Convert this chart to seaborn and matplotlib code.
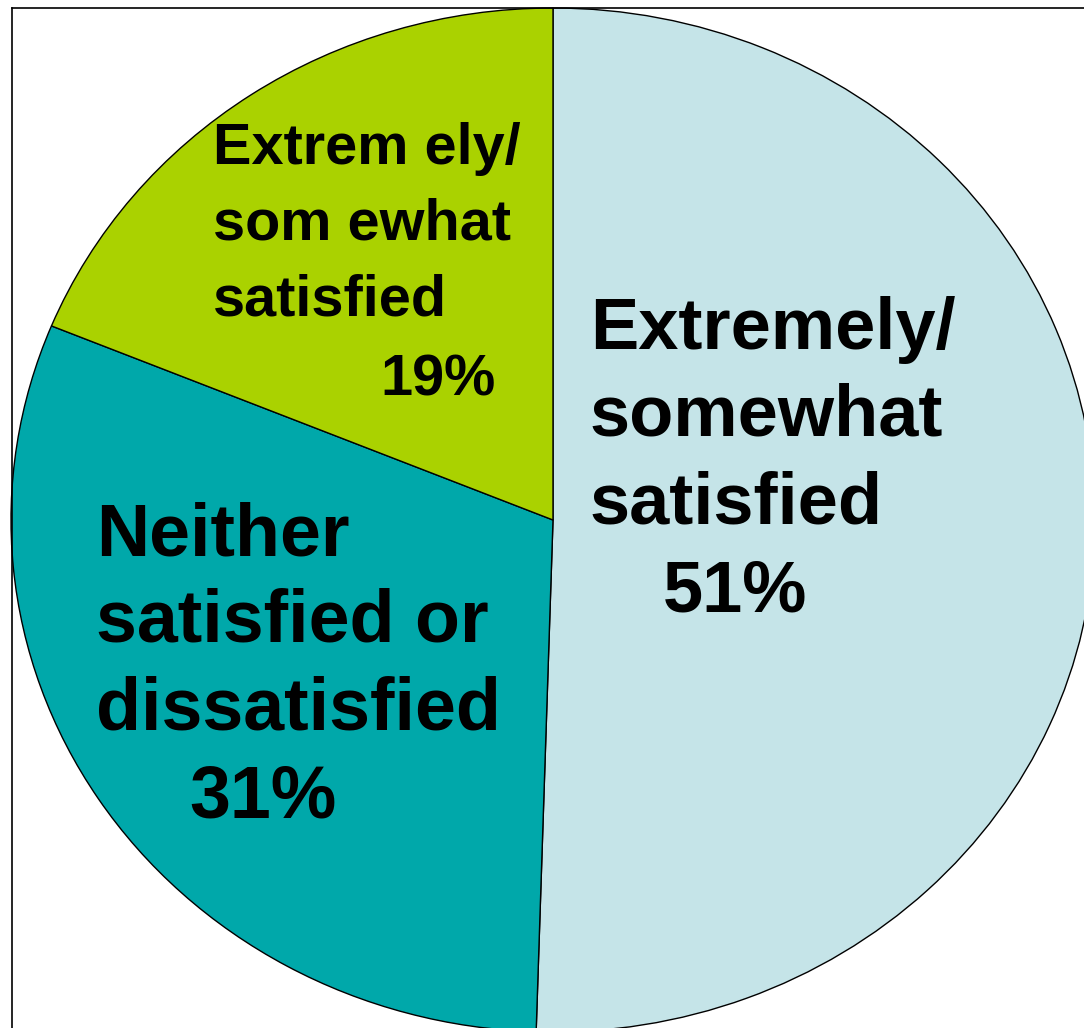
import matplotlib
matplotlib.use("Agg")
import matplotlib.pyplot as plt
import seaborn as sns

# Satisfaction shares (labels as printed on the slices)
values = [51, 31, 19]
colors = ["#C5E4E8", "#00A8AA", "#AAD200"]
label_lines = [
    ["Extremely/", "somewhat", "satisfied"],
    ["Neither", "satisfied or", "dissatisfied"],
    ["Extrem ely/", "som ewhat", "satisfied"],
]

sns.set_style("white")
plt.rcParams["font.family"] = ["Liberation Sans", "DejaVu Sans"]

W, H, DPI = 1084, 1028, 100
fig = plt.figure(figsize=(W / DPI, H / DPI), dpi=DPI)

# Axes box in pixels: left/top edges form the visible frame, right/bottom run off the canvas
L, T, R, B = 12, 8, 1110, 1045
ax = fig.add_axes([L / W, 1 - B / H, (R - L) / W, (B - T) / H])

cx, cy = 553, 520      # pie centre (px)
rx, ry = 542, 512      # horizontal / vertical radius (px)

def to_data(px, py):
    return (px - cx) / rx, (cy - py) / ry

ax.pie(values, colors=colors, startangle=90, counterclock=False,
       radius=1.0, wedgeprops=dict(edgecolor="black", linewidth=1.0))
ax.set_aspect("auto")
ax.set_xlim((L - cx) / rx, (R - cx) / rx)
ax.set_ylim((cy - B) / ry, (cy - T) / ry)
ax.set_frame_on(True)
for side in ("right", "bottom"):
    ax.spines[side].set_visible(False)
for side in ("left", "top"):
    ax.spines[side].set_visible(True)
    ax.spines[side].set_color("black")
    ax.spines[side].set_linewidth(1.2)
ax.set_xticks([])
ax.set_yticks([])

# Per-slice text layout: (left x, first baseline y, line pitch, pct x, pct baseline, font size)
layout = [
    (590, 349, 87, 663, 612, 52),
    (96, 555, 87, 189, 818, 53),
    (213, 164, 76, 380, 395, 41.5),
]

for lines, val, (lx, by, pitch, px, pby, fs) in zip(label_lines, values, layout):
    for i, line in enumerate(lines):
        x, y = to_data(lx, by + i * pitch)
        ax.text(x, y, line, ha="left", va="baseline", fontsize=fs,
                fontweight="bold", color="black")
    x, y = to_data(px, pby)
    ax.text(x, y, f"{val}%", ha="left", va="baseline", fontsize=fs,
            fontweight="bold", color="black")

fig.savefig("out.png", dpi=DPI)
